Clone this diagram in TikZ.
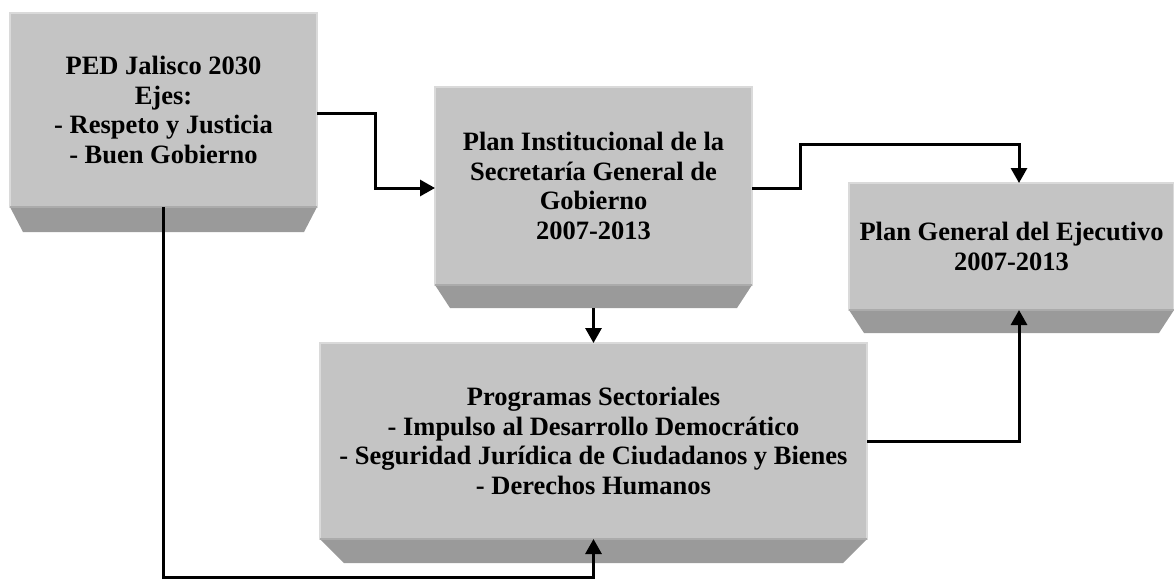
\documentclass[tikz,border=0pt]{standalone}
\usepackage{fontspec}
\setmainfont{Liberation Serif}
\usetikzlibrary{arrows.meta}
\definecolor{facegray}{HTML}{C4C4C4}
\definecolor{edgegray}{HTML}{DADADA}
\definecolor{bevelgray}{HTML}{9A9A9A}
\definecolor{beveledge}{HTML}{ABABAB}
\newcommand{\bevel}[3]{%
  \fill[bevelgray] (#1.south west) -- (#1.south east)
        -- ([shift={(-#2,#3)}]#1.south east) -- ([shift={(#2,#3)}]#1.south west) -- cycle;
  \draw[beveledge, line width=1.5pt] (#1.south west) -- (#1.south east);
  \coordinate (#1-b) at ([shift={(0,#3)}]#1.south);}

\begin{document}
\begin{tikzpicture}[x=1pt, y=-1pt,
    panel/.style={draw=edgegray, fill=facegray, line width=1.5pt, inner sep=0pt, outer sep=0pt,
                  align=center, font=\bfseries\fontsize{26.5}{29.5}\selectfont},
    conn/.style={line width=3pt, -{Triangle[length=15pt,width=16pt]}}]
      \useasboundingbox (0,0) rectangle (1174,579);
      \node[panel, minimum width=307pt, minimum height=194pt] (ped) at (163.5,110)
            {PED Jalisco 2030\\Ejes:\\- Respeto y Justicia\\- Buen Gobierno};
      \node[panel, minimum width=317pt, minimum height=198pt] (inst) at (593.5,186)
            {Plan Institucional de la\\Secretaría General de\\Gobierno\\2007-2013};
      \node[panel, minimum width=325pt, minimum height=127pt] (gral) at (1011.5,246.5)
            {Plan General del Ejecutivo\\2007-2013};
      \node[panel, minimum width=547pt, minimum height=196pt] (prog) at (593.5,441)
            {Programas Sectoriales\\- Impulso al Desarrollo Democrático\\- Seguridad Jurídica de Ciudadanos y Bienes\\- Derechos Humanos};
      \bevel{ped}{13}{25}
      \bevel{inst}{15}{23}
      \bevel{gral}{15}{23}
      \bevel{prog}{24}{24}
      \draw[conn] ([yshift=-3pt]ped.east) -- (375,113) |- ([yshift=-2pt]inst.west);
      \draw[conn] ([yshift=-2pt]inst.east) -| (800,144) -| ([xshift=7.5pt]gral.north);
      \draw[conn] (inst-b) -- (prog.north);
      \draw[conn] (prog.east) -| ([xshift=7.5pt]gral.south);
      \draw[conn] (ped.south) -- (163.5,577) -| (prog.south);
\end{tikzpicture}
\end{document}
